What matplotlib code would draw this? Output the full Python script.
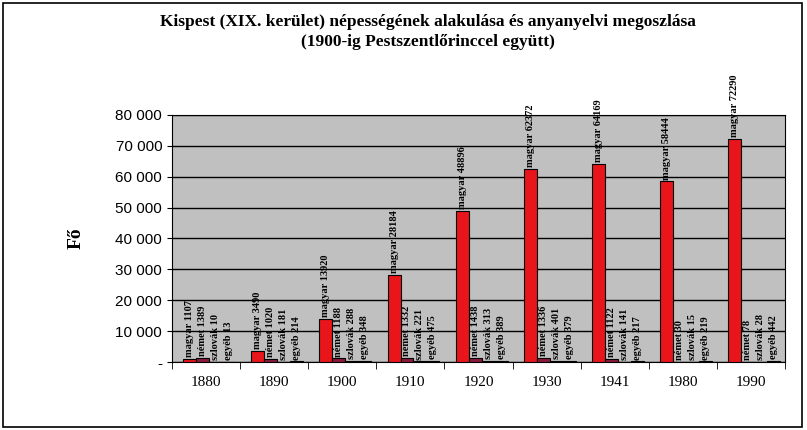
import matplotlib
matplotlib.use("Agg")
import matplotlib.pyplot as plt
import numpy as np
from matplotlib.patches import Rectangle

years = ["1880", "1890", "1900", "1910", "1920", "1930", "1941", "1980", "1990"]
magyar = [1107, 3490, 13920, 28184, 48896, 62372, 64169, 58444, 72290]
nemet = [1389, 1020, 1188, 1332, 1438, 1336, 1122, 30, 78]
szlovak = [10, 181, 288, 221, 313, 401, 141, 15, 28]
egyeb = [13, 214, 348, 475, 389, 379, 217, 219, 442]
series = [("magyar", magyar, "#e8151b"), ("német", nemet, "#8b1a3a"),
          ("szlovák", szlovak, "#8b1a3a"), ("egyéb", egyeb, "#8b1a3a")]

plt.rcParams['font.family'] = ['Liberation Serif', 'DejaVu Serif']
fig = plt.figure(figsize=(8.07, 4.30), dpi=100)
fig.patches.append(Rectangle((0.004, 0.007), 0.99, 0.985, transform=fig.transFigure,
                             fill=False, edgecolor='black', lw=1.2))
ax = fig.add_axes([0.213, 0.158, 0.76, 0.575])
ax.set_facecolor('#c0c0c0')
x = np.arange(len(years))
w = 0.19
for i, (name, vals, col) in enumerate(series):
    pos = x - 0.5 + 0.165 + w * i + w / 2
    ax.bar(pos, vals, w, color=col, edgecolor='black', lw=0.8, zorder=3)
    for p, v in zip(pos, vals):
        ax.text(p, v + 600, f"{name} {v}", rotation=90, ha='center', va='bottom',
                fontsize=7.5, fontweight='bold', zorder=4, clip_on=False)
ax.set_xlim(-0.5, len(years) - 0.5)
ax.set_ylim(0, 80000)
ticks = np.arange(0, 80001, 10000)
ax.set_yticks(ticks)
ax.set_yticklabels(["-"] + [f"{t//1000} 000" for t in ticks[1:]], family='Liberation Sans', fontsize=11)
ax.yaxis.grid(True, color='black', lw=1.0, zorder=1)
ax.set_xticks(x)
ax.set_xticklabels(years, fontsize=11)
ax.set_xticks(np.arange(-0.5, len(years)), minor=True)
ax.tick_params(axis='x', which='major', length=0, pad=10)
ax.tick_params(axis='x', which='minor', length=5)
ax.set_ylabel("Fő", fontsize=14, fontweight='bold', labelpad=22)
fig.text(0.53, 0.925, "Kispest (XIX. kerület) népességének alakulása és anyanyelvi megoszlása\n(1900-ig Pestszentlőrinccel együtt)",
         ha='center', va='center', fontsize=12.5, fontweight='bold', linespacing=1.3)
fig.savefig("out.png", dpi=100)
